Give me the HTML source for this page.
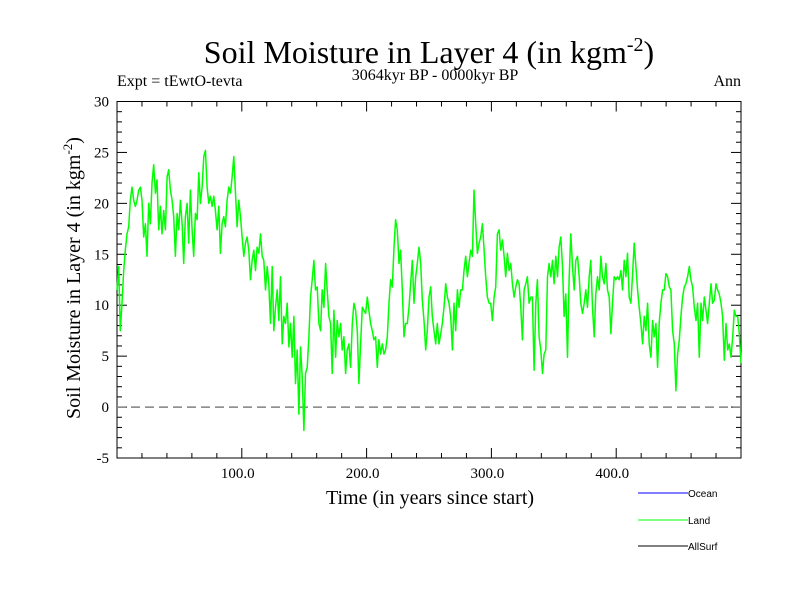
<!DOCTYPE html>
<html><head><meta charset="utf-8"><style>
body{margin:0;background:#fff;}
svg{display:block;font-family:"Liberation Serif",serif;}
</style></head><body>
<svg id="chart" width="800" height="600">
<text x="429" y="63" font-size="32" text-anchor="middle">Soil Moisture in Layer 4 (in kgm<tspan dy="-12" font-size="20">-2</tspan><tspan dy="12">)</tspan></text>
<text x="117" y="86" font-size="16">Expt = tEwtO-tevta</text>
<text x="435" y="80" font-size="16" text-anchor="middle">3064kyr BP - 0000kyr BP</text>
<text x="741" y="86" font-size="16" text-anchor="end">Ann</text>
<text transform="translate(80,278) rotate(-90)" font-size="20" text-anchor="middle">Soil Moisture in Layer 4 (in kgm<tspan dy="-8" font-size="13">-2</tspan><tspan dy="8">)</tspan></text>
<text x="430" y="504" font-size="20" text-anchor="middle">Time (in years since start)</text>
<g id="axes"></g>
<g id="series"></g>
<g font-family="Liberation Sans, sans-serif" font-size="10">
<line x1="638" y1="493" x2="688" y2="493" stroke="#0000ff"/>
<text x="688" y="497">Ocean</text>
<line x1="638" y1="520" x2="688" y2="520" stroke="#00ff00"/>
<text x="688" y="524">Land</text>
<line x1="638" y1="546" x2="688" y2="546" stroke="#000"/>
<text x="688" y="550">AllSurf</text>
</g>
</svg>
<script>
const yTickLabels=[30,25,20,15,10,5,0,-5];
const xTickLabels=["100.0","200.0","300.0","400.0"];
const xTickValues=[100,200,300,400];
const xStart=0, xEnd=500;
const landValues=[11.5,13.8,7.5,10.2,13.4,15.4,17.0,17.7,20.3,21.6,20.3,19.7,20.3,21.3,21.6,20.3,16.7,18.0,14.8,20.0,18.0,22.0,23.8,21.0,22.3,17.4,19.7,17.0,19.3,17.4,22.6,23.3,21.3,20.3,18.7,14.8,19.0,17.4,20.3,18.0,14.1,18.7,20.0,16.1,21.3,17.4,14.8,19.0,18.4,23.0,20.0,21.6,24.6,25.2,21.6,20.0,20.7,19.7,20.7,19.3,17.4,19.7,15.1,18.0,18.7,17.7,20.3,21.6,21.0,22.6,24.6,21.0,17.7,20.3,18.7,16.7,14.8,16.1,16.7,15.4,12.5,14.4,15.4,13.4,15.7,15.1,17.0,14.8,14.4,11.5,13.8,12.1,8.2,13.8,7.5,9.8,11.5,8.5,12.8,6.2,8.9,8.2,10.2,5.9,8.2,4.9,8.9,2.3,5.6,-0.7,5.9,3.0,-2.3,3.3,3.9,6.9,10.8,12.5,14.4,11.5,11.8,8.2,7.5,
11.5,9.8,14.1,11.5,8.9,8.2,3.3,9.5,4.9,8.5,6.9,8.2,5.6,6.9,3.3,5.6,6.2,3.9,8.2,10.2,9.5,7.5,2.3,6.2,9.8,9.5,9.2,10.8,9.5,8.2,7.5,6.6,6.9,3.9,6.6,5.2,6.2,5.2,5.6,6.9,10.2,12.5,11.8,15.7,18.4,17.4,14.1,15.4,11.5,6.9,8.2,8.2,9.8,12.1,14.4,10.2,12.8,14.1,15.7,14.1,10.5,8.5,5.6,7.5,10.8,11.8,8.9,7.5,6.2,8.2,6.2,7.2,8.2,9.8,12.1,10.8,10.2,8.9,5.6,10.2,7.5,11.5,9.8,11.5,11.5,13.4,14.8,12.8,14.1,15.4,14.8,21.3,18.0,15.1,16.1,16.7,18.0,15.4,12.8,10.8,10.2,10.2,8.5,10.8,11.8,17.0,17.4,15.4,16.4,14.8,12.8,15.1,13.4,14.1,12.1,10.8,11.8,12.5,12.1,9.8,6.6,11.5,12.1,12.8,10.2,10.8,
10.8,3.6,10.2,12.5,6.9,5.6,3.3,5.2,5.6,12.8,14.1,12.8,14.4,12.1,14.8,12.8,15.7,16.7,13.8,8.9,11.1,4.9,12.5,17.0,13.8,11.5,14.4,14.8,12.8,10.2,9.2,10.2,11.5,9.8,12.8,14.4,9.8,6.9,11.1,12.8,11.5,14.8,12.8,12.1,14.1,11.5,10.8,7.2,10.2,12.8,12.5,12.8,12.5,13.4,11.5,14.4,12.8,15.1,10.8,10.2,13.1,16.1,13.8,11.5,9.8,8.2,6.2,8.9,7.5,10.2,6.2,4.9,8.5,6.9,8.2,3.9,8.2,10.2,11.5,11.5,13.1,12.8,11.8,11.5,7.5,6.2,1.6,5.2,6.6,8.9,10.8,11.8,12.1,12.8,13.8,12.5,11.8,9.8,8.5,10.2,4.9,10.2,8.5,10.8,9.5,8.2,10.2,12.1,10.2,10.5,12.1,11.5,11.1,10.2,8.9,4.6,8.2,5.6,6.2,4.9,6.9,9.5,8.9,8.9,7.2,4.3];

const L=117,R=741,T=101.5,B=458;
const yMin=-5,yMax=30;
const xs=v=>L+(v-xStart)/(xEnd-xStart)*(R-L);
const ys=v=>B-(v-yMin)/(yMax-yMin)*(B-T);
const NS='http://www.w3.org/2000/svg';
const axes=document.getElementById('axes');
function mk(tag,attrs,parent){const e=document.createElementNS(NS,tag);for(const k in attrs)e.setAttribute(k,attrs[k]);parent.appendChild(e);return e;}

const frame=mk('rect',{x:L,y:T,width:R-L,height:B-T,fill:'none',stroke:'#000','stroke-width':1},axes);



for(let v=yMin;v<=yMax;v++){
  const major=v%5===0, len=major?10:5, y=ys(v);
  const t1=mk('line',{x1:L,y1:y,x2:L+len,y2:y,stroke:'#000'},axes);
  
  
  const t2=mk('line',{x1:R,y1:y,x2:R-len,y2:y,stroke:'#000'},axes);
  
  
}
yTickLabels.forEach(v=>{
  const t=mk('text',{x:109,y:ys(v)+5,'font-size':15,'text-anchor':'end'},axes);
  t.textContent=v;
  
  
});
for(let v=xStart+20;v<xEnd;v+=20){
  const major=v%100===0, len=major?10:5, x=xs(v);
  const t1=mk('line',{x1:x,y1:B,x2:x,y2:B-len,stroke:'#000'},axes);
  
  
  const t2=mk('line',{x1:x,y1:T,x2:x,y2:T+len,stroke:'#000'},axes);
  
  
}
xTickValues.forEach((v,i)=>{
  const t=mk('text',{x:xs(v)-4,y:478,'font-size':15,'text-anchor':'middle'},axes);
  t.textContent=xTickLabels[i];
  
  
});
const zl=mk('line',{x1:L,y1:ys(0),x2:R,y2:ys(0),stroke:'#808080','stroke-width':1.5,'stroke-dasharray':'9,5'},axes);



const series=document.getElementById('series');
const n=landValues.length;
const pts=landValues.map((v,i)=>xs(xStart+i*(xEnd-xStart)/(n-1)).toFixed(1)+','+ys(v).toFixed(1)).join(' ');
const pl=mk('polyline',{points:pts,fill:'none',stroke:'#00ff00','stroke-width':1.5,'stroke-linejoin':'round'},series);


</script>
</body></html>
